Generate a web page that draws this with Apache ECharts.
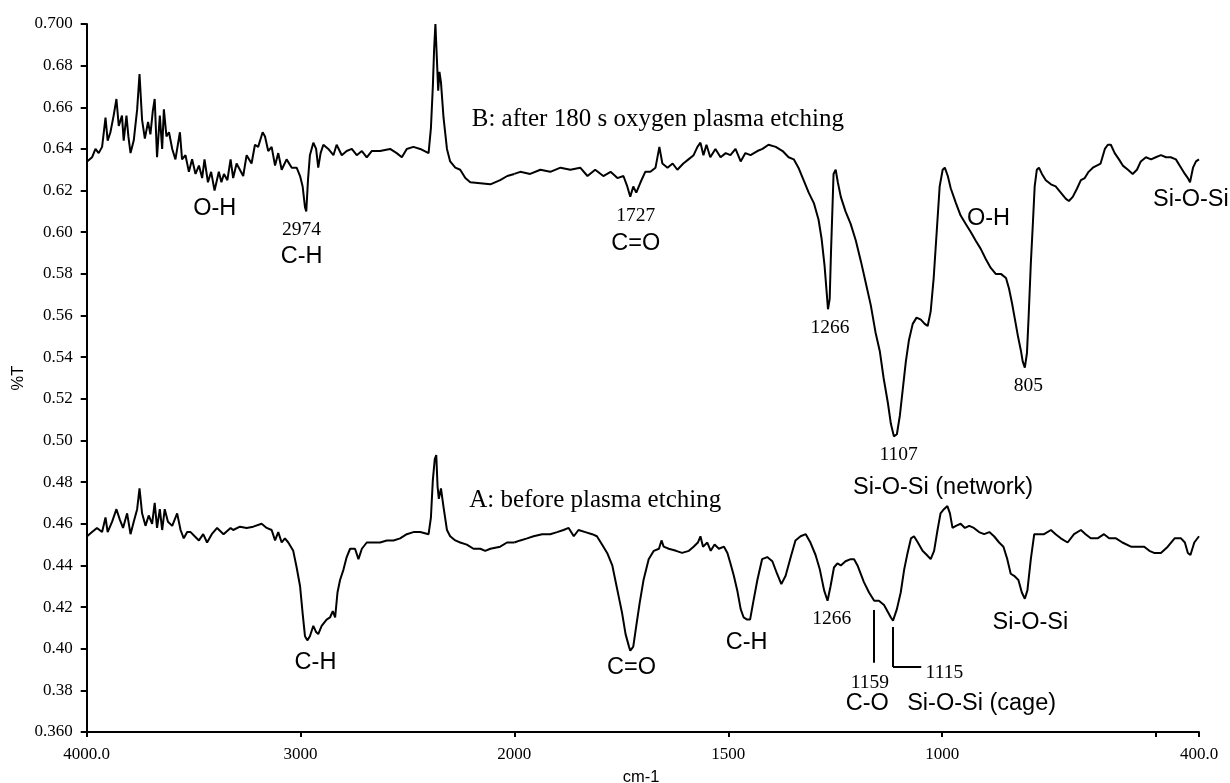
<!DOCTYPE html>
<html>
<head>
<meta charset="utf-8">
<script src="https://cdn.jsdelivr.net/npm/echarts@6/dist/echarts.min.js"></script>
<style>
  html, body { margin: 0; padding: 0; background: #ffffff; }
  #chart { width: 1230px; height: 783px; }
</style>
</head>
<body>
<div id="chart"></div>
<script>
// FTIR transmittance spectra (wavenumber in cm-1, transmittance as fraction)
// B: after 180 s oxygen plasma etching
const wavenumberB = [
  3998, 3975, 3959, 3944, 3928, 3912, 3902, 3889, 3874, 3861, 3850, 3835, 3827, 3814, 3805, 3795,
  3780, 3764, 3753, 3741, 3728, 3713, 3702, 3691, 3682, 3671, 3658, 3647, 3639, 3627, 3615, 3600,
  3585, 3564, 3554, 3538, 3522, 3507, 3491, 3475, 3460, 3449, 3433, 3418, 3402, 3382, 3370, 3358,
  3342, 3327, 3315, 3299, 3268, 3252, 3229, 3213, 3198, 3177, 3166, 3151, 3135, 3119, 3104, 3088,
  3065, 3041, 3018, 3002, 2990, 2979, 2973, 2965, 2956, 2940, 2927, 2917, 2906, 2893, 2870, 2846,
  2831, 2807, 2784, 2760, 2737, 2713, 2690, 2667, 2628, 2581, 2550, 2526, 2503, 2472, 2440, 2401,
  2390, 2381, 2375, 2369, 2362, 2356, 2350, 2343, 2331, 2315, 2300, 2276, 2253, 2229, 2206, 2159,
  2112, 2066, 2033, 2000, 1986, 1963, 1939, 1916, 1892, 1869, 1846, 1829, 1811, 1792, 1775, 1759,
  1745, 1736, 1729, 1722, 1715, 1705, 1694, 1682, 1670, 1661, 1654, 1642, 1630, 1619, 1605, 1593,
  1581, 1572, 1565, 1558, 1551, 1542, 1530, 1518, 1506, 1495, 1483, 1471, 1460, 1448, 1432, 1420,
  1406, 1389, 1373, 1359, 1347, 1336, 1324, 1312, 1300, 1289, 1282, 1275, 1270, 1267, 1263, 1260,
  1256, 1254, 1249, 1244, 1237, 1226, 1214, 1202, 1190, 1179, 1167, 1156, 1146, 1137, 1127, 1120,
  1113, 1106, 1099, 1092, 1085, 1078, 1069, 1060, 1050, 1041, 1034, 1027, 1020, 1013, 1006, 999,
  994, 987, 980, 968, 957, 945, 933, 922, 910, 898, 887, 875, 863, 851, 844, 837,
  830, 823, 816, 812, 807, 802, 798, 793, 788, 784, 779, 774, 767, 758, 746, 735,
  723, 711, 704, 695, 685, 676, 667, 658, 648, 639, 630, 620, 613, 606, 597, 587,
  578, 566, 555, 545, 536, 524, 512, 501, 489, 477, 466, 454, 442, 433, 426, 421,
  414, 407, 400
];
const transmittanceB = [
  0.634, 0.636, 0.640, 0.638, 0.641, 0.655, 0.644, 0.648, 0.656, 0.664, 0.651, 0.656, 0.644, 0.656, 0.646, 0.638,
  0.644, 0.659, 0.676, 0.654, 0.645, 0.653, 0.647, 0.658, 0.664, 0.636, 0.656, 0.640, 0.659, 0.646, 0.648, 0.640,
  0.635, 0.648, 0.635, 0.637, 0.629, 0.635, 0.628, 0.632, 0.626, 0.635, 0.624, 0.629, 0.620, 0.629, 0.624, 0.628,
  0.625, 0.635, 0.626, 0.633, 0.627, 0.637, 0.633, 0.642, 0.641, 0.648, 0.646, 0.639, 0.641, 0.632, 0.638, 0.630,
  0.635, 0.631, 0.631, 0.627, 0.622, 0.612, 0.610, 0.625, 0.637, 0.643, 0.640, 0.631, 0.638, 0.642, 0.640, 0.637,
  0.642, 0.637, 0.639, 0.640, 0.637, 0.639, 0.636, 0.639, 0.639, 0.640, 0.638, 0.636, 0.640, 0.641, 0.640, 0.638,
  0.650, 0.670, 0.688, 0.700, 0.683, 0.668, 0.677, 0.672, 0.655, 0.640, 0.634, 0.631, 0.630, 0.626, 0.624, 0.6235,
  0.623, 0.625, 0.627, 0.628, 0.629, 0.628, 0.630, 0.629, 0.631, 0.630, 0.631, 0.627, 0.630, 0.627, 0.629, 0.626,
  0.627, 0.622, 0.617, 0.622, 0.619, 0.624, 0.629, 0.629, 0.631, 0.641, 0.633, 0.631, 0.633, 0.630, 0.633, 0.635,
  0.637, 0.641, 0.643, 0.637, 0.642, 0.636, 0.640, 0.636, 0.638, 0.637, 0.640, 0.634, 0.638, 0.637, 0.639, 0.640,
  0.642, 0.641, 0.639, 0.636, 0.635, 0.631, 0.625, 0.619, 0.614, 0.606, 0.597, 0.584, 0.571, 0.563, 0.568, 0.590,
  0.615, 0.628, 0.630, 0.624, 0.617, 0.610, 0.604, 0.596, 0.586, 0.576, 0.565, 0.552, 0.543, 0.530, 0.518, 0.508,
  0.502, 0.503, 0.512, 0.525, 0.538, 0.548, 0.556, 0.559, 0.558, 0.556, 0.555, 0.562, 0.578, 0.600, 0.622, 0.630,
  0.631, 0.627, 0.621, 0.614, 0.608, 0.604, 0.600, 0.596, 0.592, 0.587, 0.583, 0.580, 0.580, 0.578, 0.573, 0.566,
  0.558, 0.550, 0.543, 0.538, 0.535, 0.542, 0.560, 0.585, 0.605, 0.622, 0.630, 0.631, 0.628, 0.625, 0.623, 0.622,
  0.619, 0.616, 0.615, 0.617, 0.621, 0.625, 0.626, 0.629, 0.631, 0.632, 0.633, 0.640, 0.642, 0.642, 0.638, 0.635,
  0.632, 0.630, 0.628, 0.630, 0.634, 0.636, 0.635, 0.636, 0.637, 0.636, 0.636, 0.635, 0.631, 0.628, 0.626, 0.624,
  0.631, 0.634, 0.635
];

// A: before plasma etching
const wavenumberA = [
  3998, 3975, 3952, 3928, 3912, 3902, 3881, 3861, 3845, 3830, 3811, 3795, 3780, 3764, 3753, 3741,
  3725, 3710, 3694, 3682, 3671, 3658, 3647, 3635, 3620, 3600, 3577, 3561, 3546, 3530, 3514, 3495,
  3475, 3455, 3437, 3415, 3390, 3360, 3327, 3315, 3283, 3252, 3221, 3182, 3158, 3135, 3119, 3104,
  3088, 3073, 3057, 3034, 3018, 3002, 2990, 2979, 2968, 2956, 2940, 2927, 2917, 2901, 2878, 2862,
  2849, 2838, 2827, 2815, 2799, 2784, 2768, 2745, 2729, 2713, 2690, 2659, 2628, 2596, 2565, 2534,
  2503, 2472, 2440, 2401, 2390, 2381, 2372, 2365, 2359, 2353, 2343, 2331, 2315, 2300, 2276, 2253,
  2222, 2191, 2159, 2136, 2112, 2066, 2034, 2000, 1986, 1970, 1955, 1935, 1916, 1900, 1885, 1873,
  1861, 1850, 1834, 1818, 1807, 1795, 1783, 1771, 1764, 1756, 1748, 1740, 1732, 1729, 1722, 1715,
  1707, 1698, 1686, 1674, 1662, 1656, 1651, 1639, 1622, 1608, 1592, 1581, 1571, 1565, 1559, 1549,
  1541, 1532, 1522, 1510, 1502, 1495, 1487, 1479, 1471, 1464, 1456, 1449, 1442, 1432, 1421, 1409,
  1397, 1386, 1376, 1366, 1354, 1343, 1331, 1319, 1308, 1296, 1286, 1276, 1268, 1261, 1253, 1245,
  1237, 1226, 1214, 1206, 1198, 1183, 1171, 1159, 1148, 1136, 1128, 1120, 1115, 1106, 1097, 1089,
  1081, 1073, 1066, 1057, 1046, 1036, 1027, 1019, 1011, 1004, 996, 988, 982, 976, 968, 957,
  947, 937, 926, 914, 902, 890, 879, 867, 857, 848, 840, 832, 822, 814, 807, 801,
  793, 785, 773, 762, 746, 735, 723, 707, 692, 676, 665, 653, 637, 622, 610, 594,
  579, 559, 543, 528, 516, 505, 489, 473, 457, 442, 433, 426, 420, 411, 400
];
const transmittanceA = [
  0.454, 0.456, 0.458, 0.456, 0.463, 0.456, 0.461, 0.467, 0.462, 0.458, 0.465, 0.455, 0.461, 0.467, 0.477, 0.465,
  0.459, 0.464, 0.460, 0.470, 0.458, 0.467, 0.457, 0.467, 0.461, 0.459, 0.465, 0.457, 0.453, 0.456, 0.456, 0.454,
  0.452, 0.455, 0.451, 0.455, 0.458, 0.455, 0.458, 0.457, 0.4586, 0.458, 0.4586, 0.460, 0.458, 0.457, 0.452, 0.456,
  0.451, 0.453, 0.451, 0.447, 0.439, 0.430, 0.417, 0.406, 0.404, 0.406, 0.411, 0.408, 0.407, 0.411, 0.414, 0.415,
  0.418, 0.415, 0.427, 0.433, 0.438, 0.444, 0.448, 0.448, 0.443, 0.448, 0.451, 0.451, 0.451, 0.452, 0.452, 0.453,
  0.455, 0.456, 0.456, 0.455, 0.463, 0.481, 0.491, 0.493, 0.478, 0.472, 0.477, 0.468, 0.457, 0.454, 0.452, 0.451,
  0.450, 0.448, 0.448, 0.447, 0.448, 0.449, 0.451, 0.451, 0.452, 0.453, 0.454, 0.455, 0.455, 0.456, 0.457, 0.458,
  0.454, 0.457, 0.456, 0.455, 0.454, 0.450, 0.446, 0.440, 0.433, 0.425, 0.417, 0.407, 0.401, 0.399, 0.401, 0.411,
  0.422, 0.433, 0.443, 0.447, 0.448, 0.452, 0.449, 0.448, 0.447, 0.446, 0.447, 0.449, 0.451, 0.454, 0.449, 0.451,
  0.447, 0.450, 0.448, 0.449, 0.446, 0.441, 0.435, 0.428, 0.419, 0.415, 0.414, 0.414, 0.422, 0.433, 0.443, 0.444,
  0.442, 0.436, 0.431, 0.435, 0.444, 0.452, 0.454, 0.455, 0.451, 0.445, 0.438, 0.428, 0.423, 0.430, 0.439, 0.441,
  0.440, 0.442, 0.443, 0.443, 0.440, 0.432, 0.427, 0.423, 0.423, 0.421, 0.418, 0.415, 0.4135, 0.419, 0.427, 0.438,
  0.446, 0.453, 0.454, 0.451, 0.447, 0.445, 0.443, 0.447, 0.457, 0.465, 0.467, 0.4685, 0.465, 0.458, 0.459, 0.460,
  0.458, 0.459, 0.458, 0.456, 0.455, 0.456, 0.454, 0.451, 0.449, 0.443, 0.436, 0.435, 0.433, 0.427, 0.424, 0.428,
  0.443, 0.455, 0.455, 0.455, 0.457, 0.455, 0.453, 0.451, 0.455, 0.457, 0.455, 0.453, 0.453, 0.455, 0.453, 0.453,
  0.451, 0.449, 0.449, 0.449, 0.447, 0.446, 0.446, 0.449, 0.453, 0.453, 0.451, 0.446, 0.445, 0.451, 0.454
];

// Axis ticks: 4000-2000 and 2000-400 are drawn at different scales
const xTicksHigh = [2000, 3000, 4000];
const xLabelsHigh = [3000, 4000];
const xTicksLow = [400, 500, 1000, 1500, 2000];
const xLabelsLow = [400, 1000, 1500, 2000];
const yMin = 0.36, yMax = 0.70, yStep = 0.02;

// Band assignments: [text, wavenumber, transmittance, style]
const bandLabels = [
  ['B: after 180 s oxygen plasma etching', 2199, 0.6544, 'title'],
  ['O-H', 3401, 0.6112, 'name'],
  ['2974', 2995, 0.6011, 'num'],
  ['C-H', 2995, 0.5881, 'name'],
  ['1727', 1716, 0.6078, 'num'],
  ['C=O', 1716, 0.5948, 'name'],
  ['1266', 1262, 0.5543, 'num'],
  ['1107', 1102, 0.4933, 'num'],
  ['Si-O-Si (network)', 998, 0.4772, 'name'],
  ['O-H', 892, 0.6068, 'name'],
  ['805', 799, 0.5264, 'num'],
  ['Si-O-Si', 419, 0.6155, 'name'],
  ['A: before plasma etching', 2211, 0.4714, 'title'],
  ['C-H', 2930, 0.3936, 'name'],
  ['C=O', 1726, 0.3912, 'name'],
  ['C-H', 1457, 0.4032, 'name'],
  ['1266', 1258, 0.4145, 'num'],
  ['1159', 1169, 0.3838, 'num'],
  ['C-O', 1175, 0.3739, 'name'],
  ['1115', 995, 0.3886, 'num'],
  ['Si-O-Si (cage)', 908, 0.3739, 'name'],
  ['Si-O-Si', 794, 0.4128, 'name']
];

const SERIF = '"Liberation Serif", "Times New Roman", serif';
const SANS = '"Liberation Sans", Arial, sans-serif';
const labelStyles = {
  title: { fontFamily: SERIF, fontSize: 25, position: 'right', distance: 0 },
  num:   { fontFamily: SERIF, fontSize: 19.5, position: 'inside' },
  name:  { fontFamily: SANS, fontSize: 23.5, position: 'inside' }
};

function pairs(ws, ts, lo, hi) {
  return ws.map((w, i) => [w, ts[i]]).filter(p => p[0] >= lo && p[0] <= hi);
}

// Text annotations anchored in data space of the grid that holds their wavenumber
function markPointsFor(high) {
  return {
    silent: true,
    animation: false,
    symbol: 'circle',
    symbolSize: 0,
    itemStyle: { color: 'rgba(0,0,0,0)' },
    data: bandLabels
      .filter(b => high ? b[1] >= 2000 : b[1] < 2000)
      .map(b => {
        const st = labelStyles[b[3]];
        return {
          coord: [b[1], b[2]],
          label: {
            show: true,
            formatter: b[0],
            color: '#000',
            fontFamily: st.fontFamily,
            fontSize: st.fontSize,
            position: st.position,
            distance: st.distance || 0
          }
        };
      })
  };
}

const axisLineStyle = { color: '#000', width: 2 };
const tickLabelStyle = { color: '#000', fontFamily: SERIF, fontSize: 17 };

const chart = echarts.init(document.getElementById('chart'), null, { renderer: 'canvas' });

const lineBase = {
  type: 'line',
  showSymbol: false,
  symbol: 'none',
  clip: false,
  animation: false,
  silent: true,
  lineStyle: { color: '#000', width: 2 },
  itemStyle: { color: '#000' }
};

chart.setOption({
  backgroundColor: '#ffffff',
  animation: false,
  grid: [
    { left: 86.7, top: 24, width: 427.6, height: 708 },
    { left: 514.3, top: 24, width: 684.7, height: 708 }
  ],
  xAxis: [
    {
      type: 'value', gridIndex: 0, min: 2000, max: 4000, interval: 1000, inverse: true,
      axisLine: { onZero: false, lineStyle: axisLineStyle },
      axisTick: { length: 5, lineStyle: axisLineStyle, customValues: xTicksHigh },
      axisLabel: Object.assign({
        margin: 14,
        customValues: xLabelsHigh,
        formatter: v => (v === 4000 ? '4000.0' : String(v))
      }, tickLabelStyle),
      splitLine: { show: false }
    },
    {
      type: 'value', gridIndex: 1, min: 400, max: 2000, inverse: true,
      axisLine: { onZero: false, lineStyle: axisLineStyle },
      axisTick: { length: 5, lineStyle: axisLineStyle, customValues: xTicksLow },
      axisLabel: Object.assign({
        margin: 14,
        customValues: xLabelsLow,
        formatter: v => (v === 400 ? '400.0' : String(v))
      }, tickLabelStyle),
      splitLine: { show: false }
    }
  ],
  yAxis: [
    {
      type: 'value', gridIndex: 0, min: yMin, max: yMax, interval: yStep,
      axisLine: { show: true, onZero: false, lineStyle: axisLineStyle },
      axisTick: { show: true, length: 6, lineStyle: axisLineStyle },
      axisLabel: Object.assign({
        margin: 14,
        formatter: v => (Math.abs(v - yMax) < 1e-9 || Math.abs(v - yMin) < 1e-9) ? v.toFixed(3) : v.toFixed(2)
      }, tickLabelStyle),
      splitLine: { show: false }
    },
    {
      type: 'value', gridIndex: 1, min: yMin, max: yMax, interval: yStep, show: false,
      splitLine: { show: false }
    }
  ],
  graphic: [
    {
      type: 'text', x: 641, y: 777,
      style: { text: 'cm-1', fill: '#000', font: '16.5px "Liberation Sans", Arial, sans-serif', textAlign: 'center', textVerticalAlign: 'middle' }
    },
    {
      type: 'text', x: 18, y: 378, rotation: Math.PI / 2,
      style: { text: '%T', fill: '#000', font: '16.5px "Liberation Sans", Arial, sans-serif', textAlign: 'center', textVerticalAlign: 'middle' }
    }
  ],
  series: [
    Object.assign({}, lineBase, {
      name: 'B', xAxisIndex: 0, yAxisIndex: 0,
      data: pairs(wavenumberB, transmittanceB, 2000, 4000),
      markPoint: markPointsFor(true)
    }),
    Object.assign({}, lineBase, {
      name: 'B', xAxisIndex: 1, yAxisIndex: 1,
      data: pairs(wavenumberB, transmittanceB, 400, 2000),
      markPoint: markPointsFor(false)
    }),
    Object.assign({}, lineBase, {
      name: 'A', xAxisIndex: 0, yAxisIndex: 0,
      data: pairs(wavenumberA, transmittanceA, 2000, 4000)
    }),
    Object.assign({}, lineBase, {
      name: 'A', xAxisIndex: 1, yAxisIndex: 1,
      data: pairs(wavenumberA, transmittanceA, 400, 2000),
      // leader lines for the 1159 and 1115 bands
      markLine: {
        silent: true,
        animation: false,
        symbol: 'none',
        label: { show: false },
        lineStyle: { color: '#000', width: 2, type: 'solid' },
        emphasis: { disabled: true },
        data: [
          [{ coord: [1159, 0.4186] }, { coord: [1159, 0.3932] }],
          [{ coord: [1115, 0.4104] }, { coord: [1115, 0.3912] }],
          [{ coord: [1115, 0.3912] }, { coord: [1049, 0.3912] }]
        ]
      }
    })
  ]
});
</script>
</body>
</html>
